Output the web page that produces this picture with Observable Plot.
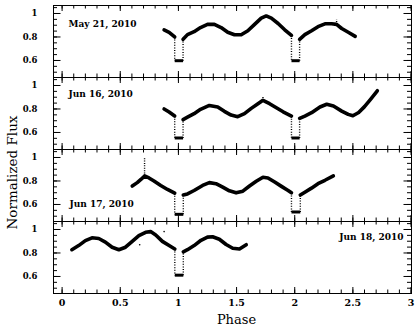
<!DOCTYPE html>
<html>
<head>
<meta charset="utf-8">
<script src="https://cdn.jsdelivr.net/npm/d3@7"></script>
<script src="https://cdn.jsdelivr.net/npm/@observablehq/plot@0.6"></script>
<style>
  html, body { margin: 0; padding: 0; background: #fff; }
  #chart { width: 417px; height: 328px; }
</style>
</head>
<body>
<div id="chart"></div>
<script>
// ---- data ----
const dates = ["May 21, 2010", "Jun 16, 2010", "Jun 17, 2010", "Jun 18, 2010"];

// light-curve segments [phase, normalized flux], split at the eclipses
const may21Curve = [
  [[0.877,0.861],[0.92,0.84],[0.968,0.80]],
  [[1.04,0.78],[1.078,0.82],[1.135,0.845],[1.19,0.88],[1.25,0.907],[1.309,0.907],[1.367,0.88],[1.424,0.84],[1.482,0.819],[1.54,0.819],[1.597,0.853],[1.655,0.907],[1.712,0.96],[1.755,0.979],[1.799,0.96],[1.857,0.915],[1.914,0.861],[1.972,0.813]],
  [[2.042,0.78],[2.087,0.82],[2.145,0.853],[2.2,0.888],[2.26,0.912],[2.317,0.912],[2.36,0.907],[2.404,0.872],[2.46,0.84],[2.52,0.805]]
];
const jun16Curve = [
  [[0.877,0.80],[0.92,0.774],[0.968,0.74]],
  [[1.04,0.71],[1.078,0.73],[1.135,0.76],[1.19,0.797],[1.266,0.83],[1.338,0.817],[1.395,0.78],[1.453,0.748],[1.51,0.734],[1.568,0.76],[1.626,0.805],[1.684,0.845],[1.727,0.874],[1.784,0.845],[1.842,0.81],[1.9,0.776],[1.972,0.74]],
  [[2.042,0.72],[2.087,0.74],[2.145,0.768],[2.217,0.817],[2.275,0.84],[2.333,0.825],[2.404,0.782],[2.46,0.754],[2.5,0.742],[2.55,0.77],[2.6,0.82],[2.65,0.88],[2.71,0.955]]
];
const jun17Curve = [
  [[0.603,0.757],[0.646,0.786],[0.68,0.815],[0.709,0.843],[0.747,0.826],[0.79,0.80],[0.848,0.762],[0.906,0.728],[0.968,0.696]],
  [[1.042,0.681],[1.078,0.69],[1.135,0.719],[1.208,0.762],[1.266,0.786],[1.323,0.777],[1.381,0.748],[1.438,0.716],[1.496,0.699],[1.554,0.713],[1.611,0.757],[1.669,0.797],[1.727,0.832],[1.77,0.826],[1.828,0.791],[1.886,0.754],[1.943,0.719],[1.972,0.699]],
  [[2.048,0.68],[2.087,0.704],[2.144,0.739],[2.2,0.777],[2.26,0.806],[2.332,0.843]]
];
const jun18Curve = [
  [[0.084,0.828],[0.142,0.863],[0.2,0.905],[0.257,0.929],[0.315,0.923],[0.372,0.893],[0.43,0.849],[0.488,0.828],[0.545,0.849],[0.603,0.899],[0.66,0.947],[0.718,0.976],[0.761,0.982],[0.805,0.953],[0.862,0.899],[0.92,0.863],[0.969,0.834]],
  [[1.042,0.81],[1.078,0.828],[1.135,0.863],[1.194,0.908],[1.25,0.935],[1.294,0.938],[1.352,0.917],[1.41,0.872],[1.467,0.84],[1.525,0.834],[1.583,0.87]]
];

// flux at the bottom of each eclipse (one per gap between segments)
const may21Depth = [0.598, 0.598];
const jun16Depth = [0.553, 0.553];
const jun17Depth = [0.516, 0.536];
const jun18Depth = [0.611];

// short flares [phase, from flux, to flux]
const may21Spikes = [[2.36, 0.907, 0.952]];
const jun16Spikes = [[1.727, 0.874, 0.91]];
const jun17Spikes = [[0.709, 0.843, 0.994]];
const jun18Spikes = [];

// stray points
const jun18Outliers = [[0.877, 0.982], [0.667, 0.87]];

// ticks
const xLabelTicks = [0, 0.5, 1, 1.5, 2, 2.5, 3];
const xMinorTicks = [0,0.1,0.2,0.3,0.4,0.5,0.6,0.7,0.8,0.9,1,1.1,1.2,1.3,1.4,1.5,1.6,1.7,1.8,1.9,2,2.1,2.2,2.3,2.4,2.5,2.6,2.7,2.8,2.9,3];
const yLabelTicks = [0.6, 0.8, 1];
const yMinorTicks = [0.5,0.55,0.6,0.65,0.7,0.75,0.8,0.85,0.9,0.95,1,1.05];

// ---- build tables ----
const panels = [
  {date: dates[0], curve: may21Curve, depth: may21Depth, spikes: may21Spikes, outliers: []},
  {date: dates[1], curve: jun16Curve, depth: jun16Depth, spikes: jun16Spikes, outliers: []},
  {date: dates[2], curve: jun17Curve, depth: jun17Depth, spikes: jun17Spikes, outliers: []},
  {date: dates[3], curve: jun18Curve, depth: jun18Depth, spikes: jun18Spikes, outliers: jun18Outliers}
];
const curveRows = [], bottomRows = [], wallRows = [], spikeRows = [], outlierRows = [];
for (const p of panels) {
  p.curve.forEach((seg, i) => {
    seg.forEach(([phase, flux]) => curveRows.push({date: p.date, seg: p.date + "-" + i, phase, flux}));
    if (i < p.curve.length - 1) {
      const a = seg[seg.length - 1], b = p.curve[i + 1][0], d = p.depth[i];
      bottomRows.push({date: p.date, x1: a[0], x2: b[0], y: d});
      wallRows.push({date: p.date, x1: a[0], y1: a[1], x2: a[0], y2: d});
      wallRows.push({date: p.date, x1: b[0], y1: d, x2: b[0], y2: b[1]});
    }
  });
  p.spikes.forEach(([phase, f1, f2]) => spikeRows.push({date: p.date, x1: phase, y1: f1, x2: phase, y2: f2}));
  p.outliers.forEach(([phase, flux]) => outlierRows.push({date: p.date, phase, flux}));
}

// ---- layout ----
const W = 417, H = 328, mL = 53, mR = 6, mT = 5, mB = 35;
const innerW = W - mL - mR;
const facetH = (H - mT - mB) / dates.length;
const serif = "'DejaVu Serif', 'Liberation Serif', serif";

function xTicks(values, len) {
  return [
    Plot.tickX(values, {x: d => d, insetTop: facetH - len, stroke: "black", strokeWidth: 1}),
    Plot.tickX(values, {x: d => d, insetBottom: facetH - len, stroke: "black", strokeWidth: 1})
  ];
}
function yTicks(values, len) {
  return [
    Plot.tickY(values, {y: d => d, insetRight: innerW - len, stroke: "black", strokeWidth: 1}),
    Plot.tickY(values, {y: d => d, insetLeft: innerW - len, stroke: "black", strokeWidth: 1})
  ];
}

const chart = Plot.plot({
  width: W, height: H,
  marginLeft: mL, marginRight: mR, marginTop: mT, marginBottom: mB,
  style: {fontFamily: serif, color: "black", background: "white"},
  x: {domain: [-0.074, 3.004]},
  y: {domain: [0.455, 1.068]},
  fy: {domain: dates, padding: 0, axis: null},
  marks: [
    Plot.frame({stroke: "black", strokeWidth: 1}),
    ...xTicks(xMinorTicks, 3.5),
    ...xTicks(xLabelTicks, 6),
    ...yTicks(yMinorTicks, 4),
    ...yTicks(yLabelTicks, 7.5),
    Plot.axisY({ticks: yLabelTicks, tickSize: 0, tickPadding: 16, label: null,
      tickFormat: d => String(d), fontSize: 8.5, fontWeight: "bold", fontFamily: serif}),
    Plot.axisX({ticks: xLabelTicks, tickSize: 0, tickPadding: 6, label: null,
      tickFormat: d => String(d), fontSize: 9.5, fontWeight: "bold", fontFamily: serif}),
    Plot.line(curveRows, {x: "phase", y: "flux", z: "seg", fy: "date", stroke: "black",
      strokeWidth: 3.6, strokeLinejoin: "round", strokeLinecap: "round"}),
    Plot.link(bottomRows, {x1: "x1", x2: "x2", y1: "y", y2: "y", fy: "date", stroke: "black", strokeWidth: 3}),
    Plot.link(wallRows, {x1: "x1", y1: "y1", x2: "x2", y2: "y2", fy: "date", stroke: "black",
      strokeWidth: 1.4, strokeDasharray: "1 1.6"}),
    Plot.link(spikeRows, {x1: "x1", y1: "y1", x2: "x2", y2: "y2", fy: "date", stroke: "black",
      strokeWidth: 1.4, strokeDasharray: "1 1.4"}),
    Plot.dot(outlierRows, {x: "phase", y: "flux", fy: "date", r: 0.8, fill: "black"}),
    // panel dates
    Plot.text([dates[0]], {fy: d => d, text: d => d, frameAnchor: "top-left", textAnchor: "start",
      lineAnchor: "middle", dx: 15, dy: 19, fontSize: 9, fontWeight: "bold", fontFamily: serif}),
    Plot.text([dates[1]], {fy: d => d, text: d => d, frameAnchor: "top-left", textAnchor: "start",
      lineAnchor: "middle", dx: 15, dy: 16.5, fontSize: 9, fontWeight: "bold", fontFamily: serif}),
    Plot.text([dates[2]], {fy: d => d, text: d => d, frameAnchor: "bottom-left", textAnchor: "start",
      lineAnchor: "middle", dx: 16, dy: -17, fontSize: 9, fontWeight: "bold", fontFamily: serif}),
    Plot.text([dates[3]], {fy: d => d, text: d => d, frameAnchor: "top-right", textAnchor: "end",
      lineAnchor: "middle", dx: -8, dy: 16, fontSize: 9, fontWeight: "bold", fontFamily: serif}),
    // axis titles
    Plot.text([dates[3]], {fy: d => d, text: () => "Phase", frameAnchor: "bottom", textAnchor: "middle",
      lineAnchor: "middle", dx: 4, dy: 26.5, fontSize: 13, fontFamily: serif}),
    Plot.text([dates[2]], {fy: d => d, text: () => "Normalized Flux", frameAnchor: "left", textAnchor: "middle",
      lineAnchor: "middle", rotate: -90, dx: -41, dy: -13, fontSize: 13.5, fontFamily: serif})
  ]
});
document.getElementById("chart").appendChild(chart);
</script>
</body>
</html>
